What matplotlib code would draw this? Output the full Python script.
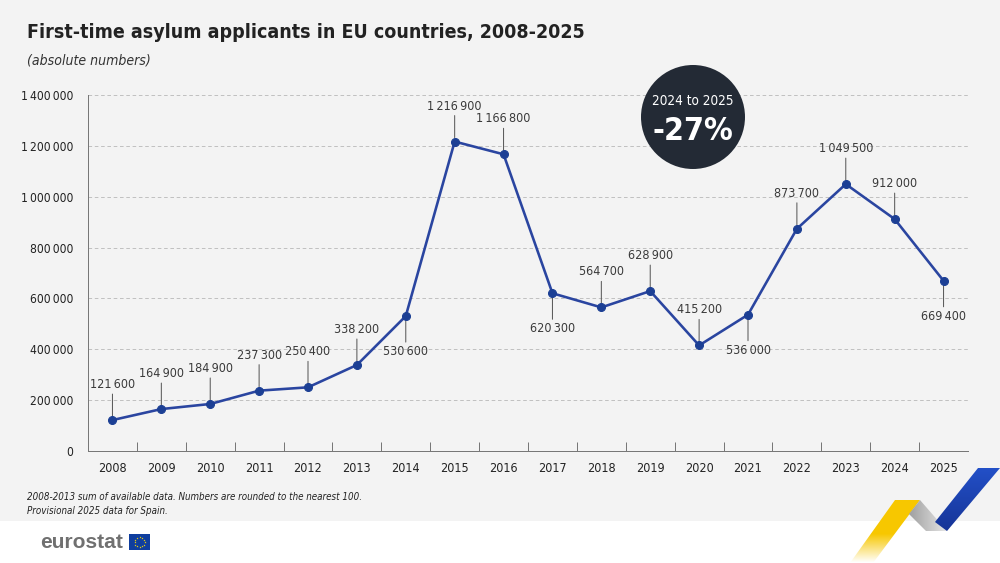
import os
import matplotlib
matplotlib.use("Agg")
import matplotlib.pyplot as plt
from matplotlib import font_manager as fm
from matplotlib.font_manager import FontProperties
from matplotlib.patches import Rectangle, Circle, Polygon
import numpy as np

# data
years = [str(y) for y in range(2008, 2026)]
applicants = [121600, 164900, 184900, 237300, 250400, 338200, 530600, 1216900,
              1166800, 620300, 564700, 628900, 415200, 536000, 873700, 1049500,
              912000, 669400]
labels_below = ["2014", "2017", "2021", "2025"]
yticks = [0, 200000, 400000, 600000, 800000, 1000000, 1200000, 1400000]

title = "First-time asylum applicants in EU countries, 2008-2025"
subtitle = "(absolute numbers)"
notes = ["2008-2013 sum of available data. Numbers are rounded to the nearest 100.",
         "Provisional 2025 data for Spain."]
badge_top = "2024 to 2025"
badge_value = "-27%"

SEP = "\u2009"  # thin space as thousands separator


def fmt(v):
    return f"{v:,}".replace(",", SEP)


# look for a narrow/condensed face, the original uses one
files = {os.path.basename(p): p for p in fm.findSystemFonts()}


def pick(names, family, **kw):
    for n in names:
        if n in files:
            return lambda size: FontProperties(fname=files[n], size=size)
    return lambda size: FontProperties(family=family, size=size, **kw)


f_reg = pick(['LiberationSansNarrow-Regular.ttf', 'DejaVuSansCondensed.ttf'], 'Roboto')
f_bold = pick(['LiberationSansNarrow-Bold.ttf', 'DejaVuSansCondensed-Bold.ttf'], 'Roboto',
              weight='bold')
f_ital = pick(['LiberationSansNarrow-Italic.ttf', 'DejaVuSansCondensed-Oblique.ttf'], 'Roboto',
              style='italic')

W, H = 1000, 563
fig = plt.figure(figsize=(W / 72, H / 72), dpi=72)
fig.patch.set_facecolor('white')

# grey backdrop down to the footnotes
fig.patches.append(Rectangle((0, (H - 521) / H), 1, 521 / H, transform=fig.transFigure,
                             facecolor='#f3f3f3', edgecolor='none', zorder=-10))


def fx(px):
    return px / W


def fy(py):
    return (H - py) / H


ax = fig.add_axes([fx(88), fy(451), fx(968) - fx(88), fy(95) - fy(451)])
ax.set_facecolor('none')

x = np.arange(len(years))
ax.plot(x, applicants, color='#2a45a0', lw=2.6, zorder=3)
ax.plot(x, applicants, 'o', color='#1c3f94', ms=8, zorder=4)

for i, (yr, v) in enumerate(zip(years, applicants)):
    below = yr in labels_below
    off = -29 if below else 29
    ax.annotate(fmt(v), (i, v), xytext=(0, off), textcoords='offset points',
                ha='center', va='top' if below else 'bottom', fontproperties=f_reg(12.5),
                color='#3a3a3a',
                arrowprops=dict(arrowstyle='-', color='#555555', lw=1,
                                shrinkA=1, shrinkB=4))

ax.set_xlim(-0.5, len(years) - 0.5)
ax.set_ylim(0, 1400000)
ax.set_yticks(yticks)
ax.set_yticklabels([fmt(t) for t in yticks], color='#222222')
ax.set_xticks(x)
ax.set_xticklabels(years, color='#222222')
for lab in ax.get_yticklabels():
    lab.set_fontproperties(f_reg(12))
for lab in ax.get_xticklabels():
    lab.set_fontproperties(f_reg(12.5))
ax.tick_params(axis='x', length=0, pad=11)
ax.tick_params(axis='y', length=0, pad=15)
ax.set_xticks(np.arange(0.5, len(years) - 1, 1), minor=True)
ax.tick_params(axis='x', which='minor', direction='in', length=9, color='#777777', width=1)

ax.grid(axis='y', ls=(0, (4, 3)), color='#bcbcbc', lw=0.9)
for sp in ['top', 'right']:
    ax.spines[sp].set_visible(False)
for sp in ['left', 'bottom']:
    ax.spines[sp].set_color('#777777')
    ax.spines[sp].set_linewidth(1)

# overlay in pixel coordinates for the decorations
ov = fig.add_axes([0, 0, 1, 1], facecolor='none')
ov.axis('off')

ov.text(27, 32, title, fontproperties=f_bold(19.5), color='#222222', va='center')
ov.text(27, 60, subtitle, fontproperties=f_ital(14), color='#333333', va='center')

# badge
ov.add_patch(Circle((693, 117), 52, facecolor='#232a35', edgecolor='none'))
ov.text(693, 101, badge_top, color='white', fontproperties=f_reg(13.5), ha='center', va='center')
ov.text(693, 131, badge_value, color='white', fontproperties=f_bold(32), ha='center', va='center')

# footnotes
ov.text(27, 497, notes[0], fontproperties=f_ital(9.8), color='#222222', va='center')
ov.text(27, 511, notes[1], fontproperties=f_ital(9.8), color='#222222', va='center')

# eurostat logo
ov.text(40, 542, "eurostat", fontsize=21, fontweight='bold', color='#707070',
        va='center', family=['Liberation Sans', 'DejaVu Sans'])
ov.add_patch(Rectangle((129, 534), 21, 16, facecolor='#0f3e9e', edgecolor='none'))
ang = np.linspace(0, 2 * np.pi, 12, endpoint=False)
ov.plot(139.5 + 5 * np.cos(ang), 542 + 5 * np.sin(ang), '*', color='#ffdd00', ms=2.2, mew=0)

# ribbon decoration bottom right
yellow = Polygon([(850, 563), (895, 500), (920, 500), (873, 563)],
                 facecolor='none', edgecolor='none')
ov.add_patch(yellow)
grad = np.zeros((64, 80, 4))
grad[..., :3] = np.array([247, 199, 0]) / 255
grad[..., 3] = np.clip(np.linspace(0, 1, 64)[:, None] * 2.2, 0, 1)
img = ov.imshow(grad, extent=(845, 925, 563, 499), origin='lower', aspect='auto')
img.set_clip_path(yellow)

grey = Polygon([(920, 500), (909, 514), (926, 531), (947, 531)],
               facecolor='none', edgecolor='none')
ov.add_patch(grey)
ggrad = np.zeros((10, 50, 4))
ggrad[..., :3] = np.linspace(0.6, 0.92, 50)[None, :, None]
ggrad[..., 3] = 1
gimg = ov.imshow(ggrad, extent=(905, 950, 532, 499), aspect='auto')
gimg.set_clip_path(grey)

blue = Polygon([(935, 522), (978, 468), (1000, 468), (947, 531)],
               facecolor='none', edgecolor='none')
ov.add_patch(blue)
bgrad = np.zeros((64, 10, 4))
bgrad[..., :3] = (np.linspace(0, 1, 64)[:, None, None] * (np.array([35, 80, 200]) - np.array([22, 52, 150]))
                  + np.array([22, 52, 150])) / 255
bgrad[..., 3] = 1
bimg = ov.imshow(bgrad, extent=(930, 1000, 532, 467), origin='lower', aspect='auto')
bimg.set_clip_path(blue)

ov.set_xlim(0, W)
ov.set_ylim(H, 0)

fig.savefig("out.png", dpi=72, facecolor=fig.get_facecolor())
